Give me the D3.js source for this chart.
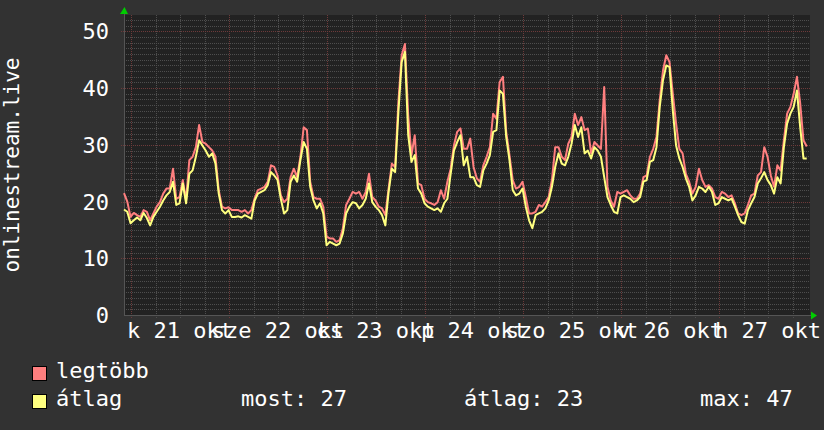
<!DOCTYPE html>
<html>
<head>
<meta charset="utf-8">
<script src="https://cdn.jsdelivr.net/npm/d3@7/dist/d3.min.js"></script>
<style>
  body { margin: 0; background: #323232; }
  svg { display: block; }
  text { font-family: "DejaVu Sans Mono", monospace; fill: #ffffff; }
</style>
</head>
<body>
<svg id="chart"></svg>
<script>
// 48 perces minták, 2025-10-20 22:17 UTC-tól 7 napon át
const startTime = Date.UTC(2025, 9, 20, 22, 17);
const stepMinutes = 48;

const yTicks = [0, 10, 20, 30, 40, 50];
const xTickDays = [21, 22, 23, 24, 25, 26, 27];
const xTickLabels = ["k 21 okt", "sze 22 okt", "cs 23 okt", "p 24 okt", "szo 25 okt", "v 26 okt", "h 27 okt"];

const maxSeries = [
  21.5, 20.0, 17.3, 18.0, 17.6, 17.3, 18.5, 18.2, 16.7, 17.9, 19.1, 19.9, 21.4, 22.3, 22.3, 25.8, 20.5, 20.8, 23.8, 20.2,
  27.3, 27.9, 29.6, 33.5, 30.5, 30.2, 29.6, 29.0, 27.9, 22.0, 19.1, 18.8, 19.0, 18.5, 18.5,
  18.5, 18.2, 18.5, 17.9, 18.5, 20.6, 22.0, 22.3, 22.6, 23.5, 26.4, 26.1, 24.6, 21.1, 19.9, 20.5, 24.3, 25.8, 24.3, 27.9,
  33.1, 32.6, 23.5, 20.8, 20.5, 20.5, 19.1, 13.8, 13.5, 13.5, 12.9, 13.2, 15.3, 19.4, 20.5,
  21.7, 21.4, 21.7, 20.5, 21.7, 24.9, 20.8, 20.2, 19.1, 18.8, 17.6, 22.3, 26.7, 26.1, 37.6, 45.8, 47.8, 35.2, 28.2, 31.7,
  23.2, 22.9, 20.5, 19.9, 19.7, 19.4, 19.9, 22.0, 20.5, 23.5, 25.8, 29.9, 32.3, 32.9, 29.3,
  29.3, 31.1, 26.1, 24.1, 23.5, 26.4, 27.9, 29.6, 35.5, 34.6, 41.1, 42.0, 32.3, 28.2, 23.8, 22.3, 22.6, 23.5, 20.8, 17.9,
  17.9, 18.2, 19.4, 19.1, 19.9, 20.8, 23.8, 29.6, 29.6, 27.9, 27.3, 30.2, 31.4, 35.5, 33.5,
  34.9, 32.6, 32.9, 28.5, 30.5, 29.9, 29.3, 40.2, 22.6, 20.2, 19.1, 21.7, 21.4, 21.7, 22.0, 21.1, 20.5, 20.5, 21.4, 24.3,
  24.6, 27.9, 29.3, 31.4, 37.9, 43.1, 45.8, 44.6, 39.0, 33.8, 29.3, 28.5, 24.9, 23.5, 21.4,
  22.6, 25.8, 23.8, 22.6, 22.9, 22.3, 20.8, 20.5, 21.7, 21.4, 20.8, 21.1, 19.7, 17.9, 17.6, 17.9, 19.4, 21.1, 21.4, 24.6,
  25.2, 29.6, 27.9, 24.6, 22.6, 26.4, 25.5, 30.8, 35.5, 36.7, 39.0, 42.0, 37.3, 30.8, 29.7
];

const avgSeries = [
  18.6, 18.2, 16.2, 16.7, 17.2, 16.7, 18.0, 17.1, 15.8, 17.3, 18.2, 19.1, 20.2, 21.1, 21.7, 23.5, 19.4, 19.7, 23.2, 19.7,
  24.9, 25.5, 27.9, 30.8, 29.9, 29.0, 27.9, 28.5, 26.7, 21.4, 18.5, 17.9, 18.5, 17.3, 17.3,
  17.4, 17.2, 17.6, 17.3, 17.0, 20.2, 21.4, 21.7, 22.0, 22.9, 25.2, 24.6, 23.8, 20.5, 17.9, 18.5, 23.5, 24.6, 23.5, 27.3,
  30.5, 29.3, 22.6, 20.2, 18.8, 19.7, 17.9, 12.3, 12.9, 12.6, 12.3, 12.6, 14.4, 17.9, 19.1,
  19.9, 19.7, 18.8, 19.4, 20.5, 23.2, 19.9, 19.1, 18.5, 17.6, 15.8, 21.7, 25.8, 25.2, 35.8, 44.6, 46.4, 31.7, 27.0, 28.2,
  22.3, 21.4, 19.7, 19.1, 18.8, 18.5, 18.8, 18.2, 19.7, 20.5, 24.9, 29.0, 30.5, 31.7, 26.4,
  27.9, 24.3, 24.3, 22.9, 22.6, 25.5, 26.7, 28.2, 32.3, 32.6, 39.6, 39.0, 31.4, 27.3, 22.0, 21.1, 21.4, 22.3, 19.1, 16.7,
  15.3, 17.6, 17.9, 18.2, 18.8, 20.2, 22.6, 26.1, 28.5, 26.7, 26.4, 27.9, 30.2, 33.5, 31.4,
  33.1, 28.5, 29.0, 27.6, 29.6, 29.0, 27.9, 24.3, 20.8, 19.4, 18.2, 17.9, 20.8, 21.1, 20.8, 20.5, 19.9, 20.2, 20.8, 23.5,
  23.8, 27.0, 27.3, 29.6, 36.7, 41.4, 44.0, 43.7, 36.1, 29.9, 27.6, 26.1, 24.1, 22.6, 20.2,
  21.1, 22.6, 22.3, 21.7, 22.6, 21.7, 19.4, 19.7, 20.8, 20.5, 20.2, 20.5, 19.1, 17.6, 16.4, 16.1, 18.5, 19.7, 20.8, 23.2,
  24.1, 25.2, 23.8, 22.9, 21.4, 24.3, 23.2, 29.6, 33.8, 35.5, 36.7, 39.6, 33.1, 27.6, 27.6
];

const legendNames = ["legtöbb", "átlag"];
const legendColors = ["#ff7f7f", "#ffff7f"];
const statNames = ["most", "átlag", "max"];
const statValues = [27, 23, 47];

const width = 824, height = 430;
const plotLeft = 124, plotRight = 810, plotTop = 15, plotBottom = 315;

const svg = d3.select("#chart")
    .attr("width", width)
    .attr("height", height);

svg.append("rect")
    .attr("width", width).attr("height", height)
    .attr("fill", "#323232");
svg.append("rect")
    .attr("x", plotLeft).attr("y", plotTop)
    .attr("width", plotRight - plotLeft).attr("height", plotBottom - plotTop)
    .attr("fill", "#222222");

const x = d3.scaleTime()
    .domain([new Date(startTime), new Date(startTime + 7 * 24 * 3600 * 1000)])
    .range([plotLeft, plotRight]);
const y = d3.scaleLinear()
    .domain([0, 52.9])
    .range([plotBottom, plotTop]);

const grid = svg.append("g").attr("stroke-dasharray", "1,1").attr("shape-rendering", "crispEdges");

// vízszintes rács
const minorY = d3.range(1, 53).filter(v => v % 10 != 0);
grid.selectAll("line.hmin")
    .data(minorY)
    .join("line")
    .attr("x1", plotLeft).attr("x2", plotRight)
    .attr("y1", d => Math.round(y(d)) + 0.5).attr("y2", d => Math.round(y(d)) + 0.5)
    .attr("stroke", "#4e4e4e");

// függőleges rács 6 óránként
const sixHours = d3.utcHour.every(6).range(x.domain()[0], x.domain()[1]);
grid.selectAll("line.vmin")
    .data(sixHours.filter(d => d.getUTCHours() != 0))
    .join("line")
    .attr("x1", d => Math.round(x(d)) + 0.5).attr("x2", d => Math.round(x(d)) + 0.5)
    .attr("y1", plotTop).attr("y2", plotBottom + 3)
    .attr("stroke", "#4e4e4e");

grid.selectAll("line.hmaj")
    .data(yTicks.filter(d => d > 0))
    .join("line")
    .attr("x1", plotLeft - 3).attr("x2", plotRight)
    .attr("y1", d => Math.round(y(d)) + 0.5).attr("y2", d => Math.round(y(d)) + 0.5)
    .attr("stroke", "#6e3a3a");

grid.selectAll("line.vmaj")
    .data(sixHours.filter(d => d.getUTCHours() == 0))
    .join("line")
    .attr("x1", d => Math.round(x(d)) + 0.5).attr("x2", d => Math.round(x(d)) + 0.5)
    .attr("y1", plotTop).attr("y2", plotBottom + 4)
    .attr("stroke", "#6e3a3a");

// tengelyek
svg.append("line")
    .attr("x1", plotLeft + 0.5).attr("x2", plotLeft + 0.5)
    .attr("y1", plotTop - 2).attr("y2", plotBottom)
    .attr("stroke", "#555");
svg.append("line")
    .attr("x1", plotLeft).attr("x2", plotRight + 2)
    .attr("y1", plotBottom + 0.5).attr("y2", plotBottom + 0.5)
    .attr("stroke", "#555");
svg.append("path")
    .attr("d", `M${plotLeft - 4},${plotTop - 1}L${plotLeft + 4},${plotTop - 1}L${plotLeft + 0.5},${plotTop - 8}Z`)
    .attr("fill", "#00cc00");
svg.append("path")
    .attr("d", `M${plotRight + 1},${plotBottom - 3.5}L${plotRight + 1},${plotBottom + 4.5}L${plotRight + 7},${plotBottom + 0.5}Z`)
    .attr("fill", "#00cc00");

// adatok
const times = avgSeries.map((d, i) => new Date(startTime + i * stepMinutes * 60000));
const line = d3.line()
    .x((d, i) => x(times[i]))
    .y(d => y(d));

svg.append("path")
    .datum(maxSeries)
    .attr("fill", "none")
    .attr("stroke", legendColors[0])
    .attr("stroke-width", 2)
    .attr("stroke-linejoin", "round")
    .attr("d", line);
svg.append("path")
    .datum(avgSeries)
    .attr("fill", "none")
    .attr("stroke", legendColors[1])
    .attr("stroke-width", 2)
    .attr("stroke-linejoin", "round")
    .attr("d", line);

// feliratok
svg.append("g")
    .selectAll("text")
    .data(yTicks)
    .join("text")
    .attr("x", 109)
    .attr("y", d => y(d) + 8)
    .attr("text-anchor", "end")
    .attr("font-size", 22)
    .text(d => d);

svg.append("g")
    .selectAll("text")
    .data(xTickDays)
    .join("text")
    .attr("x", d => x(new Date(Date.UTC(2025, 9, d, 12))))
    .attr("y", 338)
    .attr("text-anchor", "middle")
    .attr("font-size", 22)
    .text((d, i) => xTickLabels[i]);

svg.append("text")
    .attr("transform", "translate(19,165) rotate(-90)")
    .attr("text-anchor", "middle")
    .attr("font-size", 21)
    .text("onlinestream.live");

// jelmagyarázat
const legend = svg.append("g");
legend.selectAll("rect")
    .data(legendNames)
    .join("rect")
    .attr("x", 32.5).attr("y", (d, i) => 366.5 + i * 28)
    .attr("width", 14).attr("height", 14)
    .attr("fill", (d, i) => legendColors[i])
    .attr("stroke", "#000");
legend.selectAll("text.name")
    .data(legendNames)
    .join("text")
    .attr("x", 56)
    .attr("y", (d, i) => 378 + i * 28)
    .attr("font-size", 22)
    .text(d => d);
legend.selectAll("text.stat")
    .data(statNames)
    .join("text")
    .attr("class", "stat")
    .attr("x", (d, i) => [241, 464, 700][i])
    .attr("y", 406)
    .attr("font-size", 22)
    .text((d, i) => `${d}: ${statValues[i]}`);
</script>
</body>
</html>
